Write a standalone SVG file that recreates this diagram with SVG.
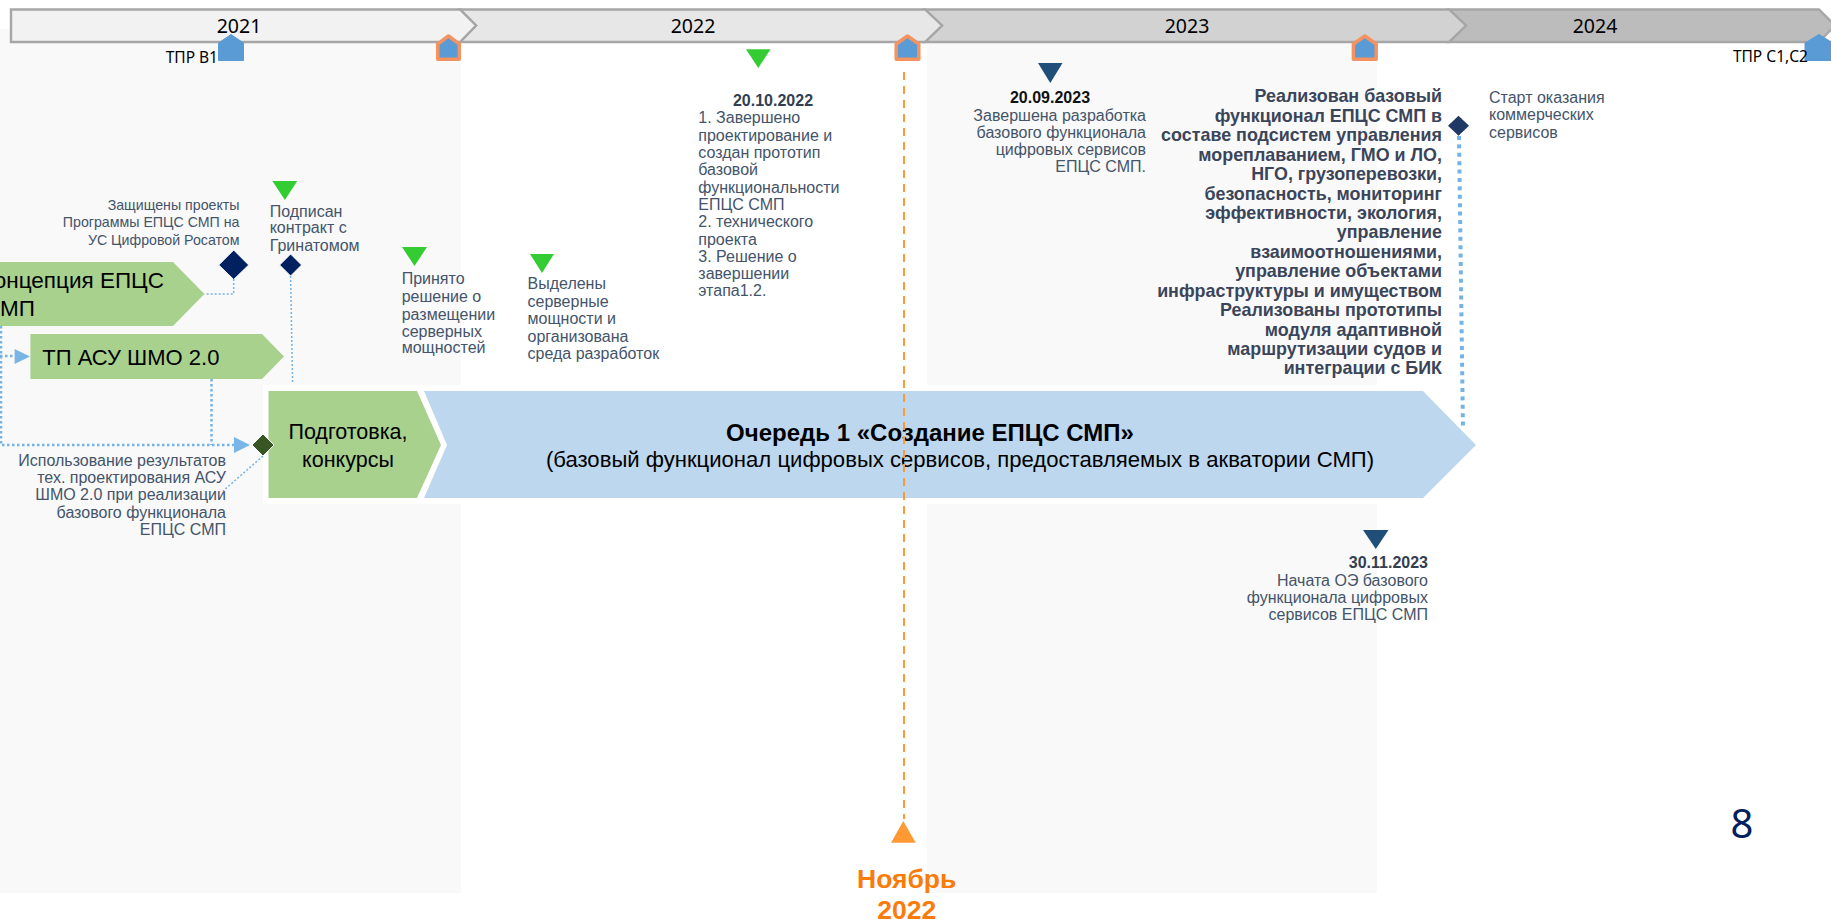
<svg xmlns="http://www.w3.org/2000/svg" width="1831" height="922" viewBox="0 0 1831 922">
<style>
text{font-family:"Liberation Sans",Arial,sans-serif}
.yr{font-family:"Noto Sans",sans-serif;font-size:19.5px;fill:#000;text-anchor:middle}
.tpr{font-family:"Noto Sans",sans-serif;font-size:15.5px;fill:#000}
.t{font-size:16px;fill:#44546a}
.s{font-size:14.2px}
.r{text-anchor:end}
.b{font-weight:bold;font-size:16px;fill:#333f50}
.bl{font-weight:bold;font-size:16px;fill:#111}
.big{font-weight:bold;font-size:17.9px;fill:#3b4559;text-anchor:end}
.shape{font-size:22px;fill:#000}
.seg{stroke:#a6a6a6;stroke-width:2.4}
.house{fill:#5b9bd5;stroke-linejoin:round}
.ho{stroke:#f4935f;stroke-width:3.5}
.hb{stroke:#5b9bd5;stroke-width:1}
.g{fill:#33cc33}.n{fill:#1f4e79}
.thin{fill:none;stroke:#74b3e6;stroke-width:1.5;stroke-dasharray:2 2}
.thick{fill:none;stroke:#74b3e6;stroke-width:2.5;stroke-dasharray:2.5 2.5}
.arr{fill:#79b5e6}
</style>
<g id="panels" fill="#f9f9f9">
<rect x="0" y="29" width="461" height="864"/>
<rect x="927" y="43" width="450" height="850"/>
<rect x="263" y="385" width="1130" height="119" fill="#fff"/>
</g>
<g id="timeline">
<g id="year-2024"><path class="seg" fill="#bcbcbc" d="M1449 9.5H1819L1835 25.500L1819 42H1449L1466 25.500Z"/><text class="yr" x="1595" y="32.700">2024</text></g>
<g id="year-2023"><path class="seg" fill="#d2d2d2" d="M925 9.500H1449L1466 25.500L1449 42H925L942 25.500Z"/><text class="yr" x="1187" y="32.700">2023</text></g>
<g id="year-2022"><path class="seg" fill="#e7e7e7" d="M460 9.500H925L942 25.500L925 42H460L476 25.500Z"/><text class="yr" x="693" y="32.700">2022</text></g>
<g id="year-2021"><path class="seg" fill="#f2f2f2" d="M11 9.500H460L476 25.500L460 42H11Z"/><text class="yr" x="239" y="32.700">2021</text></g>
</g>
<g id="node-concept"><path fill="#a9d18e" d="M-10 262H173L204.400 294L173 326H-10Z"/><text x="164" y="288" text-anchor="end" font-size="22.500" fill="#000">Концепция ЕПЦС</text><text x="35" y="315.600" text-anchor="end" font-size="22.500" fill="#000">СМП</text></g>
<g id="node-tp"><path fill="#a9d18e" d="M30.400 334H262L284 356.500L262 379H30.400Z"/><text class="shape" x="42.300" y="365">ТП АСУ ШМО 2.0</text></g>
<g id="node-prep"><path fill="#a9d18e" d="M268.500 391H417L441 445L417 498H268.500Z"/><text x="348" y="439" text-anchor="middle" font-size="21.500" fill="#000">Подготовка,</text><text x="348" y="467" text-anchor="middle" font-size="21.500" fill="#000">конкурсы</text></g>
<g id="node-queue"><path fill="#bdd7ee" d="M424 391H1423L1476 445L1423 498H424L447 445Z"/><text x="930" y="441" text-anchor="middle" font-size="24" font-weight="bold" fill="#000">Очередь 1 «Создание ЕПЦС СМП»</text><text x="960" y="467" text-anchor="middle" font-size="22.100" fill="#000">(базовый функционал цифровых сервисов, предоставляемых в акватории СМП)</text></g>
<g id="gate-v1"><path class="house hb" d="M231 34.500L243.500 43V60.500H218.500V43Z"/><text class="tpr r" x="218" y="62.700">ТПР В1</text></g>
<g id="gate-2021"><path class="house ho" d="M448.500 36L459.300 44V59.300H437.700V44Z"/></g>
<g id="gate-2022"><path class="house ho" d="M907.500 36L918.800 44V59.300H896.200V44Z"/></g>
<g id="gate-2023"><path class="house ho" d="M1364.800 36L1376.200 44V59.300H1353.400V44Z"/></g>
<g id="gate-c"><path class="house hb" d="M1819 34.500L1833 43V60.500H1805V43Z"/><text class="tpr r" x="1808" y="62">ТПР С1,С2</text></g>
<g id="milestone-defended"><polygon fill="#002060" stroke="#fff" points="233.700,250 248.700,265 233.700,279.500 218.700,265"/><text class="t s r" x="239.500" y="209.500">Защищены проекты</text><text class="t s r" x="239.500" y="227">Программы ЕПЦС СМП на</text><text class="t s r" x="239.500" y="244.500">УС Цифровой Росатом</text></g>
<g id="milestone-contract"><polygon class="g" points="272.400,181 297.300,181 284.900,200"/><polygon fill="#002060" stroke="#fff" points="290.600,254 301.600,265 290.600,276 279.600,265"/><text class="t" x="269.700" y="216.500">Подписан</text><text class="t" x="269.700" y="233.200">контракт с</text><text class="t" x="269.700" y="250.500">Гринатомом</text></g>
<g id="milestone-servers"><polygon class="g" points="402,247 427,247 414.500,266"/><text class="t" x="401.700" y="284">Принято</text><text class="t" x="401.700" y="302">решение о</text><text class="t" x="401.700" y="319.500">размещении</text><text class="t" x="401.700" y="336.500">серверных</text><text class="t" x="401.700" y="353">мощностей</text></g>
<g id="milestone-env"><polygon class="g" points="530,254 554,254 542,273"/><text class="t" x="527.500" y="289">Выделены</text><text class="t" x="527.500" y="306.500">серверные</text><text class="t" x="527.500" y="323.800">мощности и</text><text class="t" x="527.500" y="341.500">организована</text><text class="t" x="527.500" y="358.800">среда разработок</text></g>
<g id="milestone-results"><polygon fill="#375623" stroke="#fff" points="263,434 274,445 263,456 252,445"/><text class="t r" x="226" y="466">Использование результатов</text><text class="t r" x="226" y="482.700">тех. проектирования АСУ</text><text class="t r" x="226" y="500">ШМО 2.0 при реализации</text><text class="t r" x="226" y="517.700">базового функционала</text><text class="t r" x="226" y="535">ЕПЦС СМП</text></g>
<g id="milestone-20-10-2022"><polygon class="g" points="746,49.300 770.600,49.300 758.300,68"/><text class="b" x="773" y="105.700" text-anchor="middle">20.10.2022</text><text class="t" x="698.300" y="123">1. Завершено</text><text class="t" x="698.300" y="140.500">проектирование и</text><text class="t" x="698.300" y="158">создан прототип</text><text class="t" x="698.300" y="175">базовой</text><text class="t" x="698.300" y="192.500">функциональности</text><text class="t" x="698.300" y="210">ЕПЦС СМП</text><text class="t" x="698.300" y="227">2. технического</text><text class="t" x="698.300" y="244.500">проекта</text><text class="t" x="698.300" y="262">3. Решение о</text><text class="t" x="698.300" y="279">завершении</text><text class="t" x="698.300" y="296">этапа1.2.</text></g>
<g id="milestone-20-09-2023"><polygon class="n" points="1038,63 1062.500,63 1050.300,83"/><text class="bl" x="1050" y="103.300" text-anchor="middle">20.09.2023</text><text class="t r" x="1146" y="120.700">Завершена разработка</text><text class="t r" x="1146" y="137.700">базового функционала</text><text class="t r" x="1146" y="155">цифровых сервисов</text><text class="t r" x="1146" y="171.700">ЕПЦС СМП.</text></g>
<g id="milestone-implemented"><text class="big" x="1442" y="101.700">Реализован базовый</text><text class="big" x="1442" y="121.700">функционал ЕПЦС СМП в</text><text class="big" x="1442" y="141">составе подсистем управления</text><text class="big" x="1442" y="160.700">мореплаванием, ГМО и ЛО,</text><text class="big" x="1442" y="180">НГО, грузоперевозки,</text><text class="big" x="1442" y="200">безопасность, мониторинг</text><text class="big" x="1442" y="219">эффективности, экология,</text><text class="big" x="1442" y="238.300">управление</text><text class="big" x="1442" y="258.300">взаимоотношениями,</text><text class="big" x="1442" y="277.300">управление объектами</text><text class="big" x="1442" y="297.300">инфраструктуры и имуществом</text><text class="big" x="1442" y="316">Реализованы прототипы</text><text class="big" x="1442" y="336">модуля адаптивной</text><text class="big" x="1442" y="355">маршрутизации судов и</text><text class="big" x="1442" y="374">интеграции с БИК</text></g>
<g id="milestone-start"><polygon fill="#1f3864" points="1458.500,115.700 1469,125.700 1458.500,135.700 1448,125.700"/><text class="t" x="1489" y="102.700">Старт оказания</text><text class="t" x="1489" y="120">коммерческих</text><text class="t" x="1489" y="137.700">сервисов</text></g>
<g id="milestone-30-11-2023"><polygon class="n" points="1363,530 1388.500,530 1375.800,549"/><text class="b r" x="1428" y="568">30.11.2023</text><text class="t r" x="1428" y="586">Начата ОЭ базового</text><text class="t r" x="1428" y="603">функционала цифровых</text><text class="t r" x="1428" y="620">сервисов ЕПЦС СМП</text></g>
<g id="today"><polygon fill="#ff9933" points="903.300,821 915.700,842.700 891,842.700"/><text x="906.700" y="887.700" text-anchor="middle" font-size="26.500" font-weight="bold" fill="#f97c0a">Ноябрь</text><text x="906.700" y="919.300" text-anchor="middle" font-size="26.500" font-weight="bold" fill="#f97c0a">2022</text></g>
<g id="page-number"><text x="1742" y="838" text-anchor="middle" font-size="40" fill="#002060" style="font-family:'Noto Sans',sans-serif">8</text></g>
<g id="connectors">
<path class="thin" d="M233.700 279V294H204.400"/>
<path class="thin" d="M290.600 276L292.600 384"/>
<path class="thick" d="M1 326V445H234"/>
<path class="thick" d="M0 356H15"/>
<path class="thick" d="M211.500 379V445"/>
<path class="thin" d="M263 456L223 491"/>
<path fill="none" stroke="#74b3e6" stroke-width="4" stroke-dasharray="4 4.400" d="M1459 136L1463 430"/>
<path fill="none" stroke="#ff9933" stroke-width="2" stroke-dasharray="8 6" d="M904 72V819"/>
<polygon class="arr" points="234,437 250,445 234,453"/>
<polygon class="arr" points="14.600,349 30,356.500 14.600,364"/>
</g>
</svg>
